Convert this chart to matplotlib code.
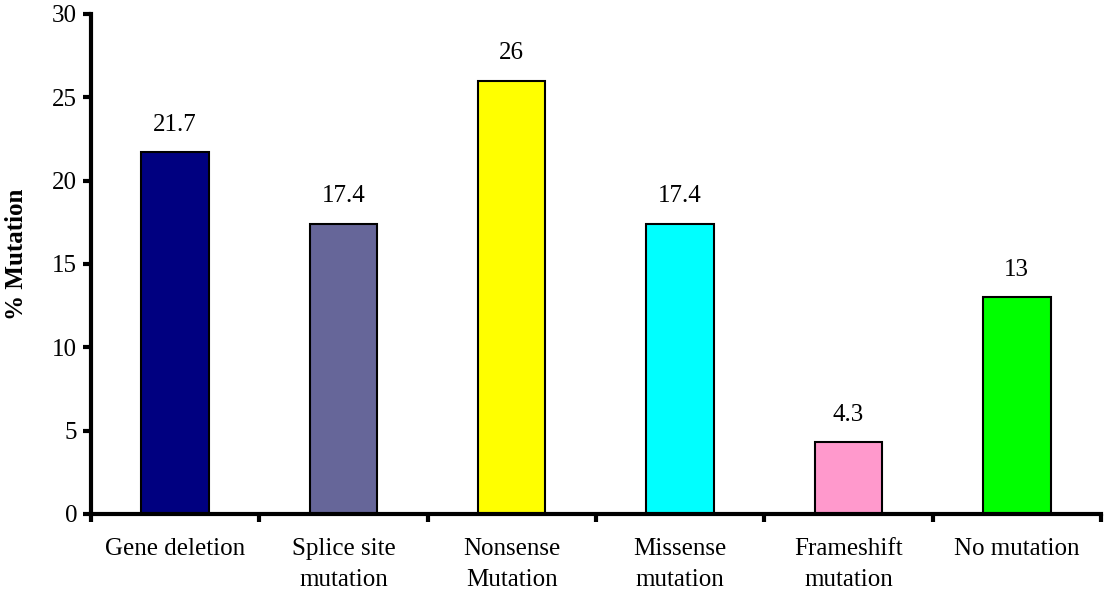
import matplotlib
matplotlib.use("Agg")
import matplotlib.pyplot as plt

categories = ["Gene deletion", "Splice site\nmutation", "Nonsense\nMutation",
              "Missense\nmutation", "Frameshift\nmutation", "No mutation"]
values = [21.7, 17.4, 26, 17.4, 4.3, 13]
value_labels = ["21.7", "17.4", "26", "17.4", "4.3", "13"]
colors = ["#000080", "#666699", "#FFFF00", "#00FFFF", "#FF99CC", "#00FF00"]
y_ticks = [0, 5, 10, 15, 20, 25, 30]

plt.rcParams["font.family"] = ["Liberation Serif", "DejaVu Serif"]
FS = 18

fig = plt.figure(figsize=(11.04, 5.92), dpi=100)
ax = fig.add_axes([0.0824, 0.1318, 0.9149, 0.8446])

x = list(range(len(categories)))
bars = ax.bar(x, values, width=0.40, color=colors, edgecolor="black",
              linewidth=1.5, zorder=2)

for xi, v, lab in zip(x, values, value_labels):
    ax.annotate(lab, (xi, v), xytext=(0, 12), textcoords="offset points",
                ha="center", va="bottom", fontsize=FS)

ax.set_xlim(-0.5, len(categories) - 0.5)
ax.set_ylim(0, 30)
ax.set_yticks(y_ticks)
ax.set_yticklabels([str(t) for t in y_ticks], fontsize=FS)

# category boundaries carry the tick marks, labels sit at bar centres
ax.set_xticks([i - 0.5 for i in range(len(categories) + 1)])
ax.set_xticklabels([])
ax.set_xticks(x, minor=True)
ax.set_xticklabels(categories, minor=True, fontsize=FS, linespacing=1.55)
ax.tick_params(axis="x", which="minor", length=0, pad=17)
ax.tick_params(axis="x", which="major", direction="out", length=6, width=3)
ax.tick_params(axis="y", direction="out", length=6, width=3, pad=4)

for side in ("top", "right"):
    ax.spines[side].set_visible(False)
for side in ("left", "bottom"):
    ax.spines[side].set_linewidth(3)

ax.set_ylabel("% Mutation", fontsize=FS, fontweight="bold")
ax.yaxis.set_label_coords(-0.062, 0.52)

fig.savefig("out.png", dpi=100)
